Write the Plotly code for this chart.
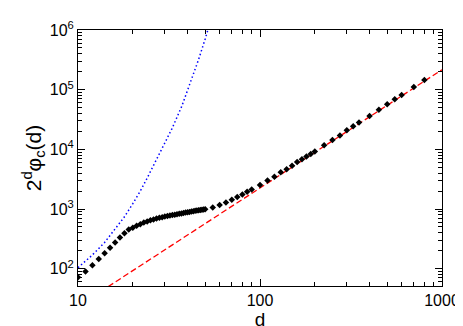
import plotly.graph_objects as go

# black diamonds: d and 2^d phi_c(d)
d_data = list(range(10, 51)) + [55, 60, 65, 70, 75, 80, 85, 90, 100, 110, 120, 130, 140,
                                 150, 160, 170, 180, 190, 200, 225, 250, 275, 300, 325,
                                 350, 400, 450, 500, 550, 600, 700, 800]
y_data = [72, 90, 114, 145, 182, 224, 274, 332, 393, 453, 487, 523, 556, 592, 619, 646,
          670, 692, 711, 729, 746, 762, 776, 791, 804, 817, 830, 843, 857, 871, 883, 895,
          908, 918, 931, 942, 953, 964, 975, 984, 993,
          1063, 1171, 1285, 1432, 1596, 1757, 1940, 2130, 2520, 3020, 3485, 4130, 4650,
          5310, 6130, 6830, 7610, 8360, 9200, 11700, 14300, 17100, 20800, 24300,
          28100, 36100, 45970, 57000, 69000, 81700, 111400, 145400]

# blue dotted curve
d_blue = [10, 12, 14, 16, 18, 20, 22, 24, 26, 29, 33, 37.2, 42.4, 46, 50, 53]
y_blue = [104, 170, 275, 457, 741, 1230, 2000, 3310, 5370, 10000, 22900, 53100,
          156000, 321000, 710000, 1300000]

# red dashed asymptote
d_red = [10, 1000]
y_red = [23.5, 216000]

font = "Liberation Sans, Arial, Helvetica, sans-serif"

fig = go.Figure()
fig.add_trace(go.Scatter(x=d_blue, y=y_blue, mode="lines",
                         line=dict(color="#0000ff", width=1.5, dash="1.5px,2.5px"),
                         showlegend=False))
fig.add_trace(go.Scatter(x=d_red, y=y_red, mode="lines",
                         line=dict(color="#ff0000", width=1.3, dash="6px,3px"),
                         showlegend=False))
fig.add_trace(go.Scatter(x=d_data, y=y_data, mode="markers",
                         marker=dict(symbol="diamond", size=5, color="black"),
                         showlegend=False))

x_minor = [m * 10 ** e for e in (1, 2) for m in range(2, 10)]
y_minor = [m * 10 ** e for e in (1, 2, 3, 4, 5) for m in range(2, 10)]

fig.update_layout(
    width=463, height=326,
    margin=dict(l=70, r=21, t=11, b=40),
    paper_bgcolor="white", plot_bgcolor="white",
    font=dict(family=font, color="black", size=16),
    xaxis=dict(
        type="log", range=[1, 3],
        tickvals=[10, 100, 1000], ticktext=["10", "100", "1000"],
        ticks="inside", ticklen=7, tickcolor="black",
        minor=dict(tickvals=x_minor, ticks="inside", ticklen=4, tickcolor="black", showgrid=False),
        showline=True, linecolor="black", linewidth=1, mirror="allticks",
        showgrid=False, zeroline=False,
        title=dict(text="d", font=dict(size=19), standoff=0),
    ),
    yaxis=dict(
        type="log", range=[1.71, 6],
        tickvals=[1e2, 1e3, 1e4, 1e5, 1e6],
        ticktext=["10<sup>2</sup>", "10<sup>3</sup>", "10<sup>4</sup>",
                  "10<sup>5</sup>", "10<sup>6</sup>"],
        ticks="inside", ticklen=7, tickcolor="black",
        minor=dict(tickvals=y_minor, ticks="inside", ticklen=4, tickcolor="black", showgrid=False),
        showline=True, linecolor="black", linewidth=1, mirror="allticks",
        showgrid=False, zeroline=False,
        title=dict(text="2<sup>d</sup>φ<sub>c</sub>(d)", font=dict(size=21), standoff=2),
    ),
)

fig.write_html("out.html")
